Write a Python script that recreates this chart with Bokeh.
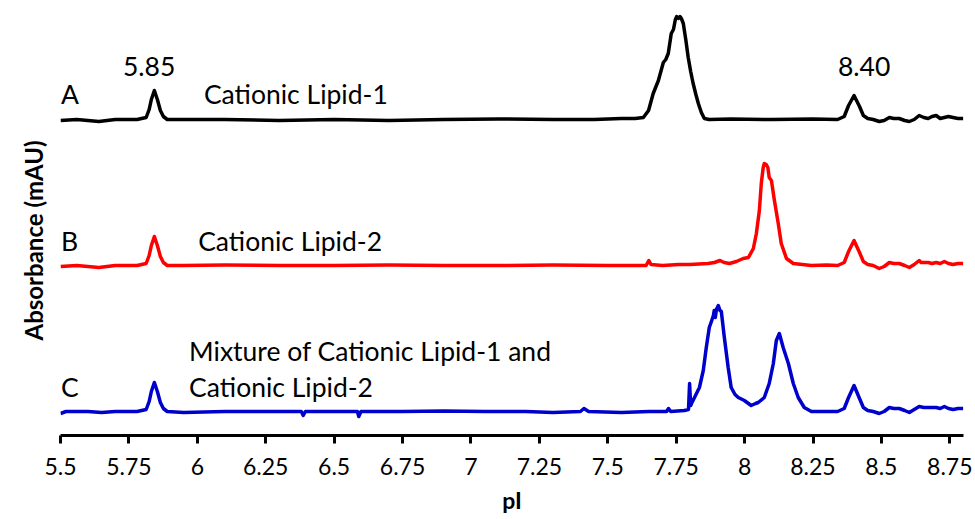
from bokeh.plotting import figure
from bokeh.models import Range1d, FixedTicker, Label, Title
from bokeh.embed import file_html
from bokeh.resources import INLINE

# ---- data (pI, absorbance above each trace's own baseline, arbitrary mAU) ----
a_pI = [5.500, 5.560, 5.640, 5.700, 5.780, 5.813, 5.824, 5.832, 5.843, 5.854, 5.865, 5.876, 5.890,
        5.950, 6.100, 6.300, 6.500, 6.700, 6.900, 7.100, 7.300, 7.450, 7.550, 7.600,
        7.630, 7.649, 7.666, 7.685, 7.703, 7.712, 7.721, 7.732, 7.740, 7.747, 7.752, 7.758, 7.764,
        7.769, 7.776, 7.785, 7.794, 7.803, 7.812, 7.822, 7.831, 7.842, 7.853,
        7.870, 7.950, 8.100, 8.250, 8.340, 8.364, 8.380, 8.400, 8.420, 8.434, 8.450, 8.470,
        8.492, 8.510, 8.529, 8.545, 8.565, 8.585, 8.602, 8.620, 8.638, 8.655, 8.671, 8.685,
        8.700, 8.715, 8.730, 8.745, 8.762, 8.780, 8.799]
a_abs = [-1, 0, -2, 0, 0, 2, 10, 20, 29, 20, 9, 3, 0,
         0, 0, -1, 0, -1, 0, 0.5, 0, 0, 1, 1,
         2, 9, 26, 39, 57, 60, 66, 86, 90, 100, 103, 101, 103,
         101, 96, 80, 62, 48, 36, 25, 16, 7, 1,
         0, 0.5, 0, 0.5, 0, 3, 14, 24, 13, 4, 1, 0,
         -2, -1, 2, 1, 1, -1, -2, 0, 4, 2, 1, 3,
         4, 1, 2, 3, 2, 1, 1]

b_pI = [5.500, 5.560, 5.640, 5.700, 5.780, 5.813, 5.824, 5.832, 5.843, 5.854, 5.865, 5.876, 5.890,
        5.950, 6.100, 6.300, 6.500, 6.700, 6.900, 7.100, 7.300, 7.500, 7.640, 7.650, 7.658,
        7.700, 7.760, 7.800, 7.866, 7.890, 7.910, 7.925, 7.945, 7.970, 7.995, 8.014, 8.032,
        8.043, 8.054, 8.061, 8.068, 8.072, 8.079, 8.085, 8.090, 8.098, 8.109, 8.123, 8.134,
        8.153, 8.178, 8.244, 8.300, 8.340, 8.364, 8.380, 8.400, 8.420, 8.434, 8.450, 8.470,
        8.492, 8.510, 8.529, 8.545, 8.565, 8.585, 8.602, 8.620, 8.638, 8.645, 8.671, 8.685,
        8.700, 8.715, 8.730, 8.745, 8.762, 8.780, 8.799]
b_abs = [-1, 0, -2, 0, 0, 2, 10, 20, 29, 20, 9, 3, 0,
         0, 0.5, 0, 0, 0.5, 0, 0, 0.5, 0, 0, 5, 1,
         0, 1, 1, 2, 3, 5, 3, 2, 4, 7, 8, 17,
         32, 55, 82, 98, 102, 101, 98, 88, 85, 65, 42, 22,
         7, 2, 0, 0.5, 0, 3, 14, 25, 13, 4, 1, 0,
         -3, -1, 3, 2, 2, 0, -2, 1, 5, 3, 3, 2,
         3, 2, 4, 2, 1, 2, 2]

c_pI = [5.500, 5.520, 5.600, 5.650, 5.700, 5.780, 5.813, 5.824, 5.832, 5.843, 5.854, 5.865, 5.876,
        5.890, 5.950, 6.100, 6.250, 6.380, 6.387, 6.395, 6.500, 6.585, 6.590, 6.598, 6.750,
        6.900, 7.050, 7.200, 7.300, 7.400, 7.413, 7.430, 7.550, 7.650, 7.715, 7.722, 7.730,
        7.780, 7.795, 7.799, 7.803, 7.806, 7.817, 7.835, 7.849, 7.860, 7.871, 7.880, 7.886,
        7.889, 7.893, 7.897, 7.904, 7.910, 7.915, 7.926, 7.940, 7.951, 7.965, 7.977, 7.999,
        8.024, 8.040, 8.050, 8.072, 8.090, 8.105, 8.116, 8.127, 8.141, 8.160, 8.178, 8.196,
        8.218, 8.244, 8.280, 8.340, 8.364, 8.380, 8.400, 8.420, 8.434, 8.450, 8.470, 8.492,
        8.510, 8.529, 8.545, 8.565, 8.585, 8.602, 8.620, 8.638, 8.655, 8.671, 8.700, 8.715,
        8.730, 8.745, 8.762, 8.780, 8.799]
c_abs = [-2, 0, 0, -1, 0, 0, 2, 10, 20, 29, 20, 9, 3,
         0, -1, 0, 0, 0, -4, 0, 0, 0, -5, 0, 0,
         0.5, 0, 0, -1, 0, 3, 0, -1, 0, 0, 3, 0,
         1, 2, 28, 6, 8, 14, 24, 41, 64, 84, 91, 96,
         101, 94, 102, 106, 101, 100, 74, 44, 24, 17, 14, 11,
         6, 8, 9, 14, 28, 48, 71, 78, 64, 48, 28, 14,
         4, 0, 0, 0, 3, 14, 26, 13, 4, 1, 0, -2,
         0, 4, 3, 3, 1, -1, 2, 5, 4, 4, 4, 3,
         5, 3, 2, 3, 3]

trace_names = ["A", "B", "C"]
trace_offsets = [316, 170, 24]
trace_colors = ["#000000", "#ff0000", "#0000cd"]

tick_values = [5.5, 5.75, 6.0, 6.25, 6.5, 6.75, 7.0, 7.25, 7.5, 7.75, 8.0, 8.25, 8.5, 8.75]
tick_labels = ["5.5", "5.75", "6", "6.25", "6.5", "6.75", "7", "7.25", "7.5", "7.75",
               "8", "8.25", "8.5", "8.75"]

FONT = "Lato"

p = figure(width=975, height=519, output_backend="svg", toolbar_location=None,
           x_range=Range1d(5.5, 8.8), y_range=Range1d(0, 430),
           min_border_left=60, min_border_right=12, min_border_top=5, min_border_bottom=84)
p.outline_line_color = None
p.grid.visible = False
p.background_fill_color = "white"

series = [(a_pI, a_abs), (b_pI, b_abs), (c_pI, c_abs)]
for (xs, ys), off, col in zip(series, trace_offsets, trace_colors):
    p.line(xs, [v + off for v in ys], line_color=col, line_width=3.5, line_join="round")

# x axis
xa = p.xaxis[0]
xa.ticker = FixedTicker(ticks=tick_values)
xa.major_label_overrides = {t: l for t, l in zip(tick_values, tick_labels)}
xa.axis_line_width = 3
xa.axis_line_color = "black"
xa.major_tick_line_width = 3
xa.major_tick_in = 0
xa.major_tick_out = 8
xa.minor_tick_line_color = None
xa.major_label_text_font = FONT
xa.major_label_text_font_size = "23px"
xa.major_label_text_color = "black"
xa.major_label_standoff = 14
xa.axis_label = "pI"
xa.axis_label_text_font = FONT
xa.axis_label_text_font_style = "bold"
xa.axis_label_text_font_size = "23px"
xa.axis_label_text_color = "black"
xa.axis_label_standoff = 8

# y axis hidden; its title drawn as a left-side Title
p.yaxis.visible = False
p.add_layout(Title(text="Absorbance (mAU)", align="left", vertical_align="top",
                   text_font=FONT, text_font_size="24px", text_font_style="bold",
                   text_color="black", standoff=22, offset=95), "left")

# annotations (data coordinates: x in pI, y in plot units)
def lab(x, y, text, align="left"):
    p.add_layout(Label(x=x, y=y, text=text, text_font=FONT, text_font_size="26.5px",
                       text_color="black", text_align=align, text_baseline="alphabetic"))

lab(5.824, 435 - 66, "5.85", "center")
lab(8.437, 435 - 66, "8.40", "center")
lab(5.502, 435 - 93, trace_names[0])
lab(6.024, 435 - 93, "Cationic Lipid-1")
lab(5.502, 435 - 240, trace_names[1])
lab(6.003, 435 - 240, "Cationic Lipid-2")
lab(5.502, 435 - 386, trace_names[2])
lab(5.970, 435 - 350, "Mixture of Cationic Lipid-1 and")
lab(5.970, 435 - 386, "Cationic Lipid-2")

open("out.html", "w").write(file_html(p, INLINE))
